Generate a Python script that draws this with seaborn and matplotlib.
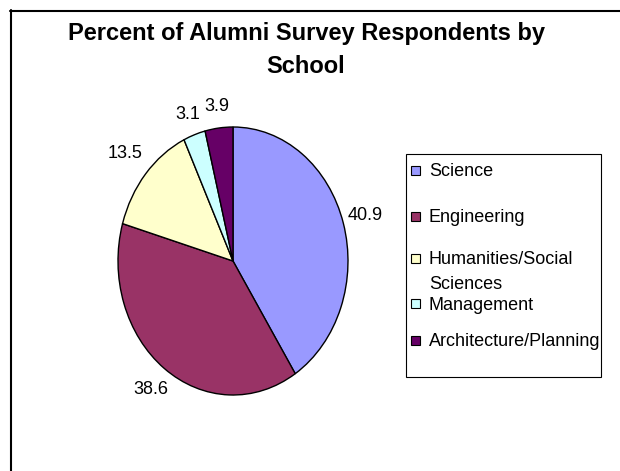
import textwrap

import matplotlib
matplotlib.use("Agg")
import matplotlib.pyplot as plt
from matplotlib.lines import Line2D
from matplotlib.patches import Rectangle
import seaborn as sns

# Survey data
schools = ["Science", "Engineering", "Humanities/Social Sciences",
           "Management", "Architecture/Planning"]
percent = [40.9, 38.6, 13.5, 3.1, 3.9]
school_colors = ["#9999FF", "#993366", "#FFFFCC", "#CCFFFF", "#660066"]
chart_title = "Percent of Alumni Survey Respondents by School"

sns.set_theme(style="white")
plt.rcParams["font.family"] = ["Liberation Sans", "DejaVu Sans"]

W, H = 620, 471
fig = plt.figure(figsize=(W / 100, H / 100), dpi=100)
fig.patch.set_facecolor("white")


def fx(px):
    return px / W


def fy(py):
    return 1 - py / H


# Chart-area frame (left and top edges visible)
fig.add_artist(Line2D([fx(10.5), fx(10.5)], [fy(10), -0.05], color="black",
                      lw=1.5, transform=fig.transFigure, clip_on=False))
fig.add_artist(Line2D([fx(10), 1.05], [fy(10.5), fy(10.5)], color="black",
                      lw=1.5, transform=fig.transFigure, clip_on=False))

# Title
fig.text(fx(306), fy(22), textwrap.fill(chart_title, 40), ha="center",
         va="top", fontsize=17, fontweight="bold", linespacing=1.55,
         color="black")

# Pie (slightly elliptical, as drawn in the original workbook)
cx, cy, rx, ry = 233, 261, 115, 134
lim = 1.5
ax = fig.add_axes([fx(cx - lim * rx), (H - cy - lim * ry) / H,
                   2 * lim * rx / W, 2 * lim * ry / H])
palette = sns.color_palette(school_colors)
wedges, texts = ax.pie(
    percent,
    labels=[f"{v:.1f}" for v in percent],
    colors=palette,
    startangle=90,
    counterclock=False,
    labeldistance=1.2,
    wedgeprops=dict(edgecolor="black", linewidth=1.0),
    textprops=dict(fontsize=13, color="black"),
)
# value labels sit a little closer in for the thin top slices
label_scale = [1.0, 1.0, 1.03, 0.97, 0.965]
for t, k in zip(texts, label_scale):
    x, y = t.get_position()
    t.set_position((x * k, y * k))
    t.set_horizontalalignment("center")
    t.set_verticalalignment("center")
ax.set_aspect("auto")
ax.set_xlim(-lim, lim)
ax.set_ylim(-lim, lim)
ax.axis("off")

# Legend box
fig.add_artist(Rectangle((fx(406), fy(377)), (601 - 406) / W, (377 - 154) / H,
                         fill=False, edgecolor="black", lw=0.8,
                         transform=fig.transFigure))
legend_rows = [170, 216, 258, 303, 340]
sq = 9
for name, col, row in zip(schools, palette, legend_rows):
    fig.add_artist(Rectangle((fx(411), fy(row + sq / 2)), sq / W, sq / H,
                             facecolor=col, edgecolor="black", lw=0.8,
                             transform=fig.transFigure))
    fig.text(fx(429), fy(row - 6.5),
             textwrap.fill(name, 18, break_long_words=False),
             ha="left", va="top", fontsize=13, linespacing=1.6,
             color="black")

fig.savefig("out.png", dpi=100, facecolor="white")
